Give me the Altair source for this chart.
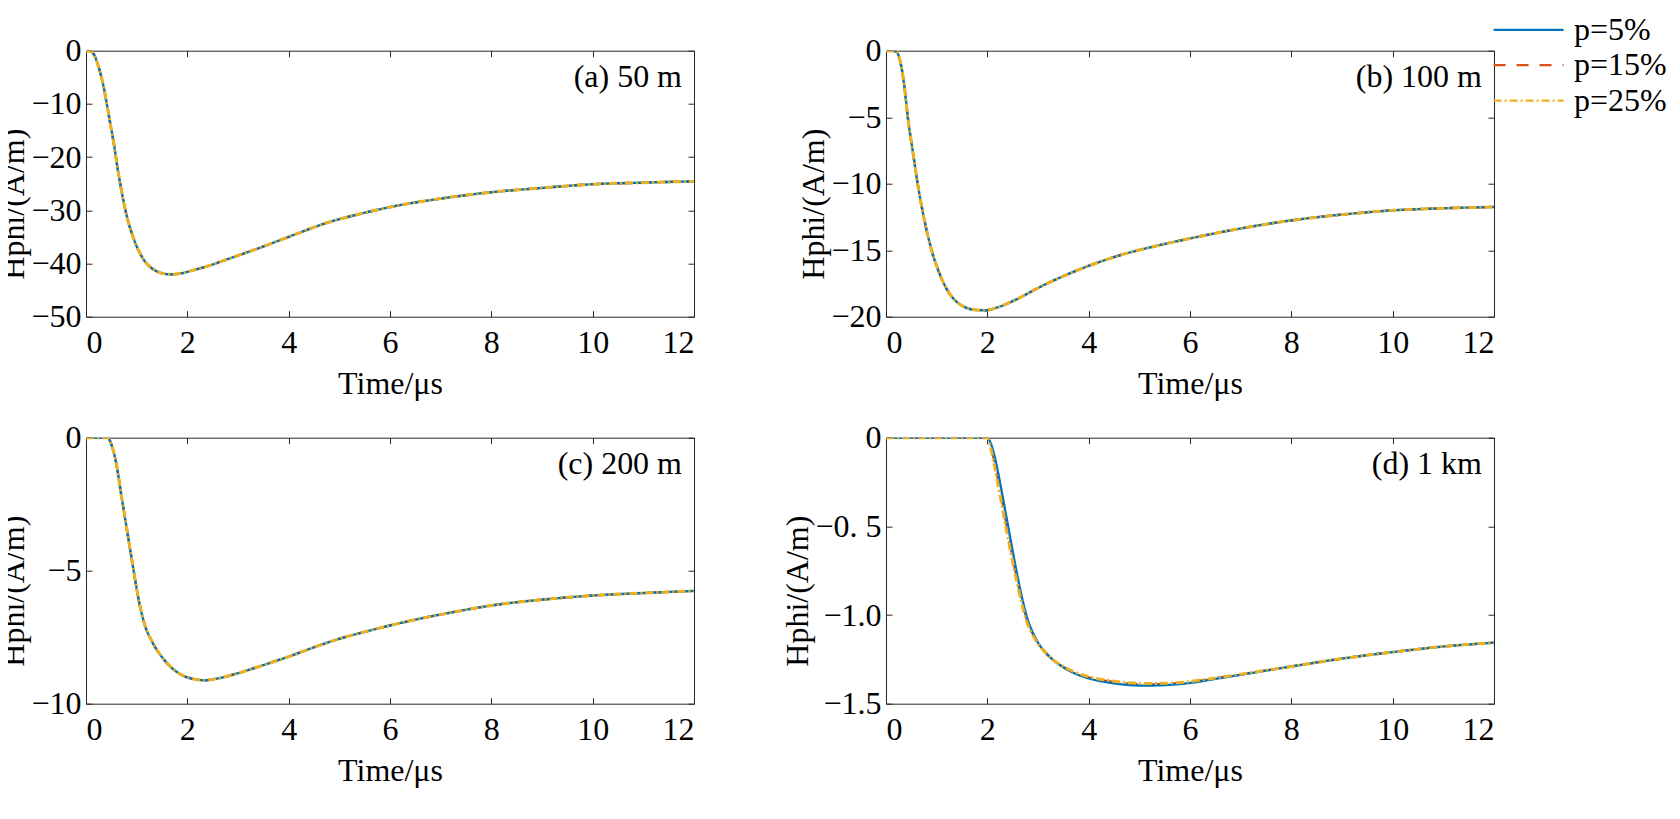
import altair as alt
import pandas as pd

FONT = "Liberation Serif"
FS = 32
SERIES = ["p=5%", "p=15%", "p=25%"]
COLORS = ["#0072BD", "#D95319", "#EDB120"]
DASHES = [[1, 0], [12, 11], [8, 3, 2, 3]]
DRAW_ORDER = ["p=15%", "p=5%", "p=25%"]
WIDTHS = {"p=5%": 2.4, "p=15%": 2.4, "p=25%": 3.0}

X_TICKS = [0, 2, 4, 6, 8, 10, 12]

# (a) 50 m
T_A = [0, 0.08, 0.15, 0.25, 0.35, 0.41, 0.48, 0.55, 0.61, 0.71, 0.81, 0.94,
       1.04, 1.14, 1.27, 1.4, 1.53, 1.66, 1.85, 2.1, 2.4, 2.76, 3.15, 3.53,
       3.86, 4.19, 4.77, 5.4, 6.0, 7.0, 8.0, 9.0, 10.0, 11.0, 12.0]
A_P5 = [0, -0.05, -0.6, -3.1, -6.9, -10, -13.75, -17.5, -21.3, -26.8, -31.3,
        -35.3, -37.6, -39.3, -40.7, -41.5, -41.9, -42.05, -41.9, -41.3, -40.5,
        -39.3, -38.0, -36.7, -35.5, -34.3, -32.3, -30.7, -29.4, -27.8, -26.6,
        -25.8, -25.1, -24.8, -24.55]
A_P15 = A_P5
A_P25 = A_P5

# (b) 100 m
T_B = [0, 0.1, 0.2, 0.28, 0.36, 0.43, 0.53, 0.625, 0.75, 0.9, 1.05, 1.21, 1.4,
       1.6, 1.8, 1.95, 2.2, 2.6, 2.97, 3.5, 4.02, 4.6, 5.31, 6.02, 6.88, 8.02,
       9.2, 10.02, 11.0, 12.0]
B_P5 = [0, 0, -0.05, -0.8, -2.6, -5.0, -7.6, -10.0, -12.6, -15.0, -16.7, -18.0,
        -18.9, -19.35, -19.5, -19.52, -19.3, -18.65, -17.9, -16.95, -16.15,
        -15.4, -14.7, -14.1, -13.45, -12.75, -12.25, -12.0, -11.85, -11.75]
B_P15 = B_P5
B_P25 = B_P5

# (c) 200 m
T_C = [0, 0.2, 0.43, 0.5, 0.59, 0.7, 0.82, 0.94, 1.05, 1.17, 1.3, 1.52, 1.72,
       1.92, 2.15, 2.35, 2.6, 2.97, 3.5, 4.03, 4.5, 4.93, 5.5, 6.02, 6.6, 7.27,
       8.03, 9.22, 10.03, 11.0, 12.0]
C_P5 = [0, 0, 0, -0.25, -0.9, -2.2, -3.6, -5.0, -6.2, -7.1, -7.65, -8.3, -8.7,
        -8.95, -9.08, -9.12, -9.05, -8.87, -8.55, -8.21, -7.88, -7.6, -7.3,
        -7.05, -6.8, -6.55, -6.3, -6.05, -5.93, -5.84, -5.76]
C_P15 = C_P5
C_P25 = C_P5

# (d) 1 km
T_D = [0, 1.0, 2.0, 2.05, 2.12, 2.2, 2.3, 2.41, 2.5, 2.6, 2.77, 2.95, 3.16,
       3.35, 3.53, 3.8, 4.0, 4.5, 5.1, 5.5, 6.0, 6.5, 7.0, 8.0, 9.04, 10.0,
       11.02, 12.0]
D_P5 = [0, 0, 0, -0.02, -0.08, -0.18, -0.33, -0.5, -0.64, -0.79, -1.0, -1.13,
        -1.215, -1.265, -1.3, -1.338, -1.357, -1.385, -1.398, -1.395, -1.383,
        -1.36, -1.337, -1.29, -1.244, -1.209, -1.177, -1.156]
D_P15 = [0, 0, 0, -0.03, -0.11, -0.22, -0.37, -0.54, -0.675, -0.815, -1.015,
         -1.135, -1.215, -1.265, -1.298, -1.334, -1.352, -1.378, -1.391, -1.389,
         -1.378, -1.357, -1.335, -1.29, -1.244, -1.209, -1.177, -1.156]
D_P25 = [0, 0, 0.0, -0.04, -0.13, -0.25, -0.4, -0.57, -0.7, -0.835, -1.03,
         -1.14, -1.215, -1.263, -1.295, -1.33, -1.348, -1.373, -1.386, -1.385,
         -1.375, -1.355, -1.334, -1.29, -1.244, -1.209, -1.177, -1.156]

PANEL_LABELS = ["(a) 50 m", "(b) 100 m", "(c) 200 m", "(d) 1 km"]
Y_DOMAINS = [[-50, 0], [-20, 0], [-10, 0], [-1.5, 0]]
Y_TICKS = [[-50, -40, -30, -20, -10, 0],
           [-20, -15, -10, -5, 0],
           [-10, -5, 0],
           [-1.5, -1.0, -0.5, 0]]
Y_LABEL_EXPR = [
    "replace(format(datum.value, 'd'), '-', '\u2212')",
    "replace(format(datum.value, 'd'), '-', '\u2212')",
    "replace(format(datum.value, 'd'), '-', '\u2212')",
    "datum.value == 0 ? '0' : (datum.value == -0.5 ? '\u22120. 5' : replace(format(datum.value, '.1f'), '-', '\u2212'))",
]
PANEL_DATA = [
    (T_A, [A_P5, A_P15, A_P25]),
    (T_B, [B_P5, B_P15, B_P25]),
    (T_C, [C_P5, C_P15, C_P25]),
    (T_D, [D_P5, D_P15, D_P25]),
]

W, H = 608, 266
AX = "#262626"
TICK_DASH = [6, 3000]

legend = alt.Legend(
    title=None, orient="none", legendX=1426.6, legendY=-36.9,
    symbolType="M-5,0H5", symbolSize=196, symbolStrokeWidth=2.2,
    labelFontSize=FS, labelFont=FONT, labelColor="#000000",
    labelOffset=29.3, rowPadding=3.4, padding=0,
)
color_scale = alt.Scale(domain=SERIES, range=COLORS)
dash_scale = alt.Scale(domain=SERIES, range=DASHES)

guide_style = dict(labelFont=FONT, titleFont=FONT, labelFontSize=FS,
                   titleFontSize=FS, labelColor="#000000", titleColor="#000000",
                   titleFontWeight="normal")


def make_panel(i):
    t, vals = PANEL_DATA[i]
    rows = []
    for s, v in zip(SERIES, vals):
        for tt, vv in zip(t, v):
            rows.append({"t": tt, "v": vv, "series": s})
    df = pd.DataFrame(rows)
    xs = alt.Scale(domain=[0, 12], nice=False, zero=False)
    ys = alt.Scale(domain=Y_DOMAINS[i], nice=False, zero=False)
    x_axis = alt.Axis(orient="bottom", values=X_TICKS, title="Time/\u03bcs", grid=True,
                      gridDash=TICK_DASH, gridColor=AX, gridWidth=1, gridOpacity=1,
                      ticks=False, domain=False, labelPadding=11, titlePadding=10,
                      format="d", **guide_style)
    y_axis = alt.Axis(orient="left", values=Y_TICKS[i], title="Hphi/(A/m)", grid=True,
                      gridDash=TICK_DASH, gridColor=AX, gridWidth=1, gridOpacity=1,
                      ticks=False, domain=False, labelPadding=5, titlePadding=0,
                      titleY=H / 2 + 20, labelExpr=Y_LABEL_EXPR[i], **guide_style)
    layers = []
    for s in DRAW_ORDER:
        layers.append(
            alt.Chart(df[df["series"] == s]).mark_line(
                strokeWidth=WIDTHS[s], interpolate="monotone", clip=True
            ).encode(
                x=alt.X("t:Q", scale=xs, axis=x_axis),
                y=alt.Y("v:Q", scale=ys, axis=y_axis),
                color=alt.Color("series:N", scale=color_scale, legend=legend),
                strokeDash=alt.StrokeDash("series:N", scale=dash_scale, legend=legend),
            )
        )
    lines = alt.layer(*layers)
    lab = pd.DataFrame({"t": [12], "v": [Y_DOMAINS[i][1]], "label": [PANEL_LABELS[i]]})
    top_axis = alt.Axis(orient="top", values=X_TICKS, labels=False, title=None,
                        grid=True, gridDash=TICK_DASH, gridColor=AX, gridWidth=1,
                        gridOpacity=1, ticks=False, domain=False)
    right_axis = alt.Axis(orient="right", values=Y_TICKS[i], labels=False, title=None,
                          grid=True, gridDash=TICK_DASH, gridColor=AX, gridWidth=1,
                          gridOpacity=1, ticks=False, domain=False)
    text = alt.Chart(lab).mark_text(
        align="right", baseline="alphabetic", dx=-12, dy=36,
        fontSize=FS, font=FONT, color="#000000"
    ).encode(
        x=alt.X("t:Q", scale=xs, axis=top_axis),
        y=alt.Y("v:Q", scale=ys, axis=right_axis),
        text="label:N",
    )
    return alt.layer(lines, text).resolve_axis(
        x="independent", y="independent"
    ).properties(width=W, height=H)


panels = [make_panel(i) for i in range(4)]
chart = alt.concat(
    *panels, columns=2,
    spacing=alt.RowColnumber(row=121, column=192), bounds="flush"
).properties(
    padding={"left": -11, "top": 5.7, "right": 0, "bottom": 0}
).configure(font=FONT).configure_view(
    stroke=AX, strokeWidth=1
).configure_axis(
    labelFontSize=FS, titleFontSize=FS, labelFont=FONT, titleFont=FONT,
    labelColor="#000000", titleColor="#000000", titleFontWeight="normal"
).configure_legend(labelFont=FONT, labelFontSize=FS)

chart.save("out.html", embed_options={"renderer": "svg", "actions": False})
